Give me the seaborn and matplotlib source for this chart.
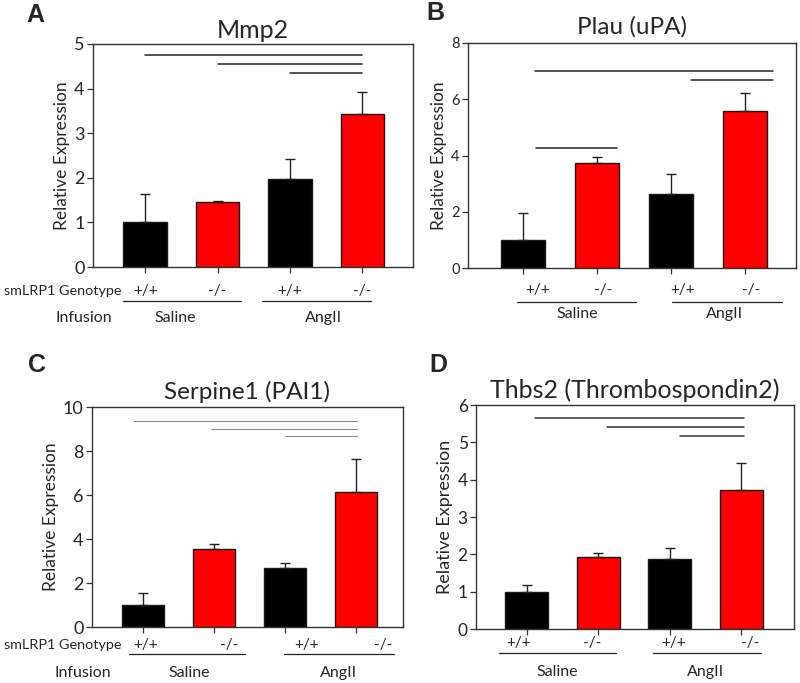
import matplotlib
matplotlib.use("Agg")
import matplotlib.pyplot as plt
import matplotlib.transforms as mtransforms
import seaborn as sns
import pandas as pd

sns.set_style("ticks")
plt.rcParams['font.family'] = ['Lato', 'DejaVu Sans']

# data
groups = ['Saline +/+', 'Saline -/-', 'AngII +/+', 'AngII -/-']
genotypes = ['+/+', '-/-', '+/+', '-/-']
infusions = ['Saline', 'AngII']
bar_colors = ['#000000', '#ff0000', '#000000', '#ff0000']

mmp2_mean = [1.00, 1.46, 1.97, 3.44]
mmp2_err = [0.63, 0.03, 0.45, 0.48]
plau_mean = [1.00, 3.75, 2.62, 5.57]
plau_err = [0.95, 0.18, 0.73, 0.66]
serpine1_mean = [1.00, 3.55, 2.70, 6.14]
serpine1_err = [0.56, 0.22, 0.21, 1.48]
thbs2_mean = [1.00, 1.92, 1.88, 3.73]
thbs2_err = [0.19, 0.11, 0.29, 0.71]

# significance bars: (x start, x end, height)
sig_a = [(0, 3, 4.75), (1, 3, 4.55), (2, 3, 4.35)]
sig_b = [(0.16, 3.38, 7.02), (2.27, 3.38, 6.70), (0.18, 1.27, 4.26)]
sig_c = [(-0.13, 3.01, 9.35), (0.96, 3.01, 9.0), (2.0, 3.01, 8.67)]
sig_d = [(0.11, 3.04, 5.65), (1.13, 3.04, 5.41), (2.15, 3.04, 5.17)]

W, H = 800, 683
fig = plt.figure(figsize=(W / 100, H / 100), dpi=100)
fig.patch.set_facecolor('white')


def px_axes(l, r, t, b):
    return fig.add_axes([l / W, 1 - b / H, (r - l) / W, (b - t) / H])


panels = [
    dict(name='A', title='Mmp2', mean=mmp2_mean, err=mmp2_err, sig=sig_a,
         box=(93, 413, 44, 267), ymax=5, yticks=range(0, 6), xlim=(-0.72, 3.70),
         tick_fs=13, title_fs=18, title_y=31, letter=(35, 15), ylab_fs=12.5,
         sig_color='#222222', sig_lw=1.1,
         geno_x=[0, 1, 2, 3], geno_dy=24,
         under=[(-0.30, 1.32), (1.61, 3.12)], under_dy=34,
         inf_x=[0.41, 2.47], inf_dy=51, rowlab=True),
    dict(name='B', title='Plau (uPA)', mean=plau_mean, err=plau_err, sig=sig_b,
         box=(468, 796, 43, 268), ymax=8, yticks=range(0, 9, 2), xlim=(-0.74, 3.69),
         tick_fs=10.5, title_fs=17.5, title_y=27, letter=(435, 13), ylab_fs=12.5,
         sig_color='#222222', sig_lw=1.1,
         geno_x=[0.2, 1.09, 2.16, 3.09], geno_dy=22,
         under=[(-0.08, 1.53), (2.01, 3.50)], under_dy=34,
         inf_x=[0.73, 2.73], inf_dy=46, rowlab=False),
    dict(name='C', title='Serpine1 (PAI1)', mean=serpine1_mean, err=serpine1_err, sig=sig_c,
         box=(92, 403, 407, 627), ymax=10, yticks=range(0, 11, 2), xlim=(-0.72, 3.66),
         tick_fs=13, title_fs=17.5, title_y=392, letter=(37, 365), ylab_fs=12.5,
         sig_color='#8a8a8a', sig_lw=0.8,
         geno_x=[0.04, 1.21, 2.30, 3.38], geno_dy=18,
         under=[(-0.20, 1.44), (1.99, 3.54)], under_dy=27,
         inf_x=[0.65, 2.75], inf_dy=46, rowlab=True),
    dict(name='D', title='Thbs2 (Thrombospondin2)', mean=thbs2_mean, err=thbs2_err, sig=sig_d,
         box=(476, 794, 405, 629), ymax=6, yticks=range(0, 7), xlim=(-0.71, 3.74),
         tick_fs=12.5, title_fs=18, title_y=390, letter=(438, 365), ylab_fs=13,
         sig_color='#333333', sig_lw=1.1,
         geno_x=[-0.12, 0.92, 2.06, 3.13], geno_dy=14,
         under=[(-0.39, 1.25), (1.76, 3.28)], under_dy=24,
         inf_x=[0.43, 2.50], inf_dy=43, rowlab=False),
]

for p in panels:
    l, r, t, b = p['box']
    ax = px_axes(l, r, t, b)
    hpx = b - t
    df = pd.DataFrame({'group': groups, 'value': p['mean']})
    sns.barplot(data=df, x='group', y='value', hue='group', palette=bar_colors,
                legend=False, width=0.6, edgecolor='#1a1a1a', linewidth=1.0,
                saturation=1, ax=ax)
    ax.errorbar(range(4), p['mean'], yerr=[[0] * 4, p['err']], fmt='none',
                ecolor='#222222', elinewidth=1.0, capsize=3.5, capthick=1.0, zorder=1)
    for x0, x1, yy in p['sig']:
        ax.plot([x0, x1], [yy, yy], color=p['sig_color'], lw=p['sig_lw'])

    ax.set_xlim(*p['xlim'])
    ax.set_ylim(0, p['ymax'])
    ax.set_yticks(list(p['yticks']))
    ax.set_xticks(range(4))
    ax.set_xticklabels([])
    ax.set_xlabel('')
    ax.set_ylabel('Relative Expression', fontsize=p['ylab_fs'], labelpad=3)
    ax.tick_params(axis='y', labelsize=p['tick_fs'], length=4, width=0.9, color='#333333',
                   pad=2)
    ax.tick_params(axis='x', length=4, width=0.9, color='#333333')
    for s in ax.spines.values():
        s.set_visible(True)
        s.set_color('#333333')
        s.set_linewidth(1.0)

    # title and panel letter in figure pixel coords
    fig.text((l + r) / 2 / W, 1 - p['title_y'] / H, p['title'], fontsize=p['title_fs'],
             ha='center', va='center')
    fig.text(p['letter'][0] / W, 1 - p['letter'][1] / H, p['name'], fontsize=18,
             fontweight='bold', family='Liberation Sans', ha='center', va='center')

    trans = mtransforms.blended_transform_factory(ax.transData, ax.transAxes)
    for gx, g in zip(p['geno_x'], genotypes):
        ax.text(gx, -p['geno_dy'] / hpx, g, transform=trans, ha='center', va='center',
                fontsize=11)
    for x0, x1 in p['under']:
        ax.plot([x0, x1], [-p['under_dy'] / hpx] * 2, transform=trans, color='#222222',
                lw=0.9, clip_on=False)
    for ix, lab in zip(p['inf_x'], infusions):
        ax.text(ix, -p['inf_dy'] / hpx, lab, transform=trans, ha='center', va='center',
                fontsize=11.5)
    if p['rowlab']:
        fig.text(4 / W, 1 - (b + p['geno_dy']) / H, 'smLRP1 Genotype',
                 ha='left', va='center', fontsize=10.4)
        fig.text((l - 9) / W, 1 - (b + p['inf_dy']) / H, 'Infusion',
                 ha='center', va='center', fontsize=11.5)

fig.savefig('out.png', dpi=100, facecolor='white')
